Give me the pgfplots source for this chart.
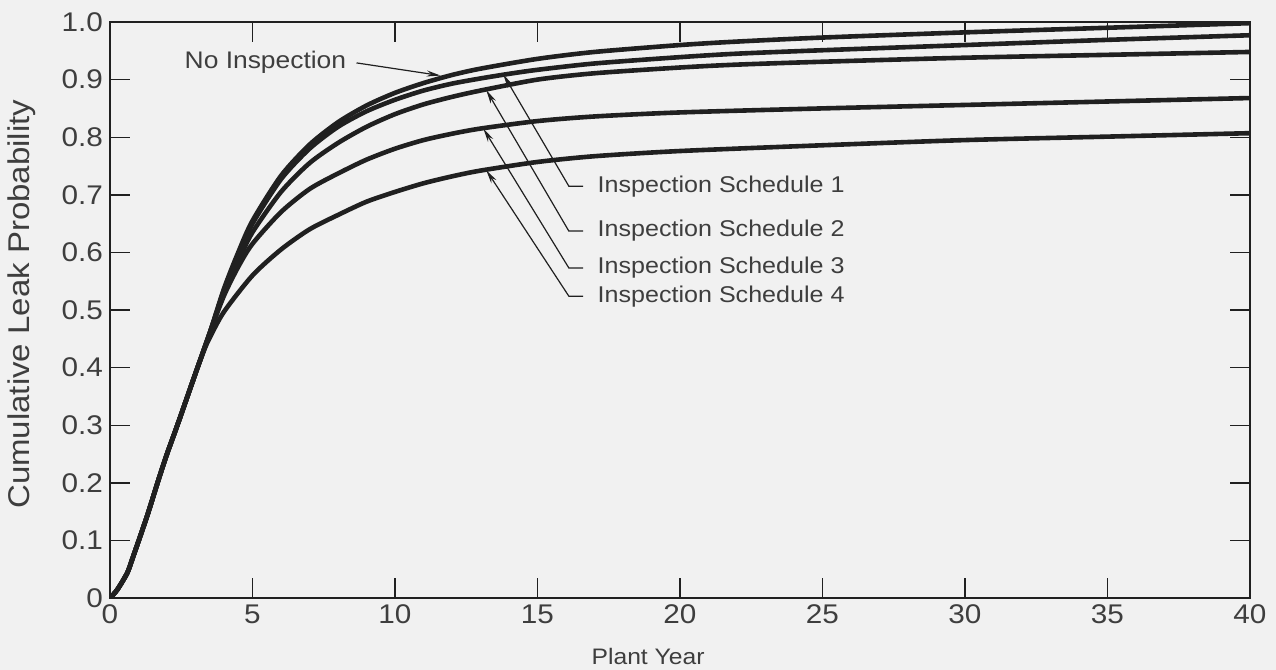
\documentclass[border=0pt]{standalone}
\usepackage{fontspec}
\setmainfont{Liberation Sans}[FakeStretch=1.1]
\usepackage{pgfplots}
\pgfplotsset{compat=1.18}
\usetikzlibrary{arrows.meta}
\definecolor{paper}{RGB}{241,241,241}
\definecolor{ink}{RGB}{32,32,32}
\definecolor{txt}{RGB}{62,62,62}

\begin{document}
\begin{tikzpicture}[x=1pt,y=1pt]
\fill[paper] (-55,-36) rectangle (583,299);
\path[use as bounding box] (-55,-36) rectangle (583,299);
\begin{axis}[
  at={(0,0)}, anchor=south west, scale only axis,
  width=570pt, height=288pt,
  xmin=0, xmax=40, ymin=0, ymax=1,
  xtick={0,5,10,15,20,25,30,35,40},
  xticklabels={0,5,10,15,20,25,30,35,40},
  ytick={0,0.1,0.2,0.3,0.4,0.5,0.6,0.7,0.8,0.9,1.0},
  yticklabels={0,0.1,0.2,0.3,0.4,0.5,0.6,0.7,0.8,0.9,1.0},
  tick align=inside, major tick length=10pt,
  axis line style={ink, line width=1pt},
  tick style={ink, line width=0.7pt},
  tick label style={font=\fontsize{13.5}{15}\selectfont, color=txt},
  xlabel={Plant Year},
  ylabel={Cumulative Leak Probability},
  x label style={at={(axis description cs:0.472,-0.102)}, anchor=center,
    font=\fontsize{11.2}{13}\selectfont, color=txt},
  y label style={at={(axis description cs:-0.077,0.51)}, anchor=center,
    font=\fontsize{15}{17}\selectfont, color=txt},
  curve/.style={ink, line width=2.3pt, no markers, smooth, tension=0.45},
  clip=true,
]
% No inspection
\addplot[curve] coordinates {(0,0) (0.25,0.014) (0.6,0.043) (0.8,0.07) (1.3,0.142)
  (1.7,0.205) (2.0,0.25) (2.4,0.305) (3.0,0.39) (3.5,0.46) (4,0.537) (4.5,0.6)
  (5,0.655) (6,0.733) (7,0.787) (8,0.826) (9,0.855) (10,0.877) (11,0.894)
  (12,0.908) (13,0.919) (15,0.936) (17,0.948) (20,0.96) (22,0.966) (25,0.973)
  (30,0.982) (35,0.99) (40,0.998)};
% Inspection schedule 1
\addplot[curve] coordinates {(0,0) (0.25,0.014) (0.6,0.043) (0.8,0.07) (1.3,0.142)
  (1.7,0.205) (2.0,0.25) (2.4,0.305) (3.0,0.39) (3.5,0.46) (4,0.535) (4.5,0.597)
  (5,0.65) (6,0.727) (7,0.78) (8,0.818) (9,0.845) (10,0.865) (11,0.881)
  (12,0.893) (13,0.902) (14,0.91) (15,0.917) (17,0.928) (20,0.939) (22,0.945)
  (25,0.951) (30,0.96) (35,0.969) (40,0.977)};
% Inspection schedule 2
\addplot[curve] coordinates {(0,0) (0.25,0.014) (0.6,0.043) (0.8,0.07) (1.3,0.142)
  (1.7,0.205) (2.0,0.25) (2.4,0.305) (3.0,0.39) (3.5,0.46) (4,0.53) (4.5,0.585)
  (5,0.635) (6,0.705) (7,0.755) (8,0.79) (9,0.818) (10,0.84) (11,0.857)
  (12,0.87) (13,0.881) (15,0.9) (17,0.911) (20,0.921) (22,0.926) (25,0.931)
  (30,0.938) (35,0.943) (40,0.948)};
% Inspection schedule 3
\addplot[curve] coordinates {(0,0) (0.25,0.014) (0.6,0.043) (0.8,0.07) (1.3,0.142)
  (1.7,0.205) (2.0,0.25) (2.4,0.305) (3.0,0.39) (3.5,0.46) (4,0.525) (4.5,0.575)
  (5,0.615) (6,0.67) (7,0.71) (8,0.737) (9,0.761) (10,0.78) (11,0.795)
  (12,0.806) (13,0.815) (15,0.828) (17,0.836) (20,0.843) (25,0.85) (30,0.856)
  (35,0.862) (40,0.868)};
% Inspection schedule 4
\addplot[curve] coordinates {(0,0) (0.25,0.014) (0.6,0.043) (0.8,0.07) (1.3,0.142)
  (1.7,0.205) (2.0,0.25) (2.4,0.305) (3.0,0.39) (3.3,0.43) (3.5,0.452) (4,0.497)
  (5,0.56) (6,0.605) (7,0.64) (8,0.665) (9,0.688) (10,0.705) (11,0.72)
  (12,0.732) (13,0.742) (15,0.757) (17,0.767) (20,0.776) (25,0.786) (30,0.795)
  (35,0.801) (40,0.807)};

% Callouts
\begin{scope}[every node/.style={color=txt, inner sep=0pt},
  lab/.style={font=\fontsize{11.4}{13}\selectfont, anchor=west},
  leader/.style={ink, line width=0.6pt, -{Stealth[length=7pt, width=3pt]}}]
\node[anchor=east, font=\fontsize{12}{14}\selectfont] at (axis cs:8.3,0.93) {No Inspection};
\draw[leader] (axis cs:8.65,0.929) -- (axis cs:11.6,0.907);
\draw[leader] (axis cs:16.6,0.715) -- (axis cs:16.1,0.715) -- (axis cs:13.8,0.909);
\node[lab] at (axis cs:17.1,0.715) {Inspection Schedule 1};
\draw[leader] (axis cs:16.6,0.637) -- (axis cs:16.1,0.637) -- (axis cs:13.2,0.882);
\node[lab] at (axis cs:17.1,0.637) {Inspection Schedule 2};
\draw[leader] (axis cs:16.6,0.573) -- (axis cs:16.1,0.573) -- (axis cs:13.1,0.815);
\node[lab] at (axis cs:17.1,0.573) {Inspection Schedule 3};
\draw[leader] (axis cs:16.6,0.524) -- (axis cs:16.1,0.524) -- (axis cs:13.2,0.743);
\node[lab] at (axis cs:17.1,0.524) {Inspection Schedule 4};
\end{scope}
\end{axis}
\end{tikzpicture}
\end{document}
